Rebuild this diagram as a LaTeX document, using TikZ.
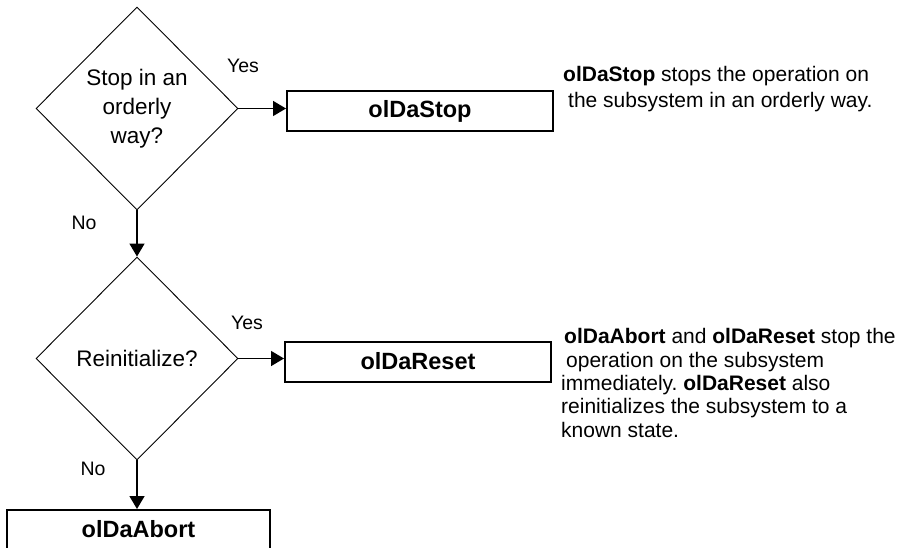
\documentclass[tikz,border=0pt]{standalone}
\usepackage{fontspec}
\setmainfont{Liberation Sans}
\usetikzlibrary{shapes.geometric,arrows.meta}
\frenchspacing

\tikzset{
    decision/.style={diamond, draw, line width=0.9pt, aspect=1, inner sep=0pt,
        minimum width=202pt, minimum height=203pt, align=center,
        font=\fontsize{22.5}{29}\selectfont},
    callbox/.style={rectangle, draw, line width=2pt, minimum width=266pt,
        minimum height=40pt, font=\fontsize{23.5}{28}\selectfont\bfseries},
    flow/.style={line width=1.5pt, -{Triangle[length=13pt, width=15pt]}},
    answer/.style={font=\fontsize{19.5}{23}\selectfont},
    note/.style={anchor=north west, inner sep=0pt, align=left}
}

\begin{document}
\begin{tikzpicture}[x=1pt, y=-1pt]
    \useasboundingbox (0,0) rectangle (907,548);
    \clip (0,0) rectangle (907,548);

    % questions
    \node[decision] (orderly) at (137,108.5) {Stop in an\\orderly\\way?};
    \node[decision] (reinit) at (137,358.5) {Reinitialize?};

    % calls
    \node[callbox] (stopcall) at (420,111) {olDaStop};
    \node[callbox] (resetcall) at (418,361.5) {olDaReset};
    \node[callbox, minimum width=263pt, anchor=north, inner ysep=0pt,
        text height=27pt, text depth=32pt] (abortcall) at (138.5,509) {olDaAbort};

    % connectors
    \draw[flow] (orderly.east) -- (orderly.east -| stopcall.west);
    \draw[flow] (reinit.east) -- (reinit.east -| resetcall.west);
    \draw[flow] (orderly.south) -- (reinit.north);
    \draw[flow] (reinit.south) -- (reinit.south |- abortcall.north);

    \node[answer] (yes1) at (243,66) {Yes};
    \node[answer] (yes2) at (247,323) {Yes};
    \node[answer] (no1) at (84,223) {No};
    \node[answer] (no2) at (93,469) {No};

    % notes
    \node[note, font=\fontsize{21}{26}\selectfont] (stopnote) at (563,66.5)
        {\textbf{olDaStop} stops the operation on\\
         \hspace*{5pt}the subsystem in an orderly way.};
    \node[note, font=\fontsize{21}{23.3}\selectfont] (resetnote) at (561,328.5)
        {\hspace*{3pt}\textbf{olDaAbort} and \textbf{olDaReset} stop the\\
         \hspace*{5pt}operation on the subsystem\\
         immediately. \textbf{olDaReset} also\\
         reinitializes the subsystem to a\\
         known state.};
\end{tikzpicture}
\end{document}
